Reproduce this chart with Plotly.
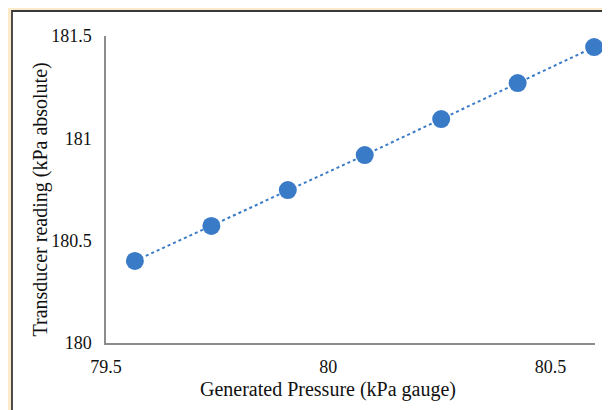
import plotly.graph_objects as go

generated_pressure = [79.565, 79.737, 79.909, 80.082, 80.254, 80.426, 80.598]
transducer_reading = [180.401, 180.572, 180.747, 180.918, 181.094, 181.270, 181.446]
x_ticks = [79.5, 80, 80.5]
x_tick_labels = ["79.5", "80", "80.5"]
y_ticks = [180, 180.5, 181, 181.5]
y_tick_labels = ["180", "180.5", "181", "181.5"]

blue = "#3A7BC8"
serif = "Liberation Serif"
tick_font = dict(family=serif, size=18, color="#111111")

L, T, W, H = 98, 28, 489, 307
fig = go.Figure()
fig.add_trace(go.Scatter(
    x=generated_pressure, y=transducer_reading,
    mode="lines+markers",
    line=dict(color=blue, width=2, dash="dot"),
    marker=dict(color=blue, size=18),
    showlegend=False,
    cliponaxis=False,
))

fig.update_layout(
    width=610, height=410,
    margin=dict(l=L, r=610 - L - W, t=T, b=410 - T - H),
    paper_bgcolor="#FDEACB",
    plot_bgcolor="white",
    font=dict(family=serif, size=18, color="#111111"),
    shapes=[dict(type="rect", xref="paper", yref="paper",
                 x0=(4 - L) / W, x1=1.3, y0=-0.6, y1=1 + (T - 3) / H,
                 fillcolor="white", line=dict(color="#3a3a3a", width=1.8),
                 layer="below")],
    annotations=[
        dict(text="Generated Pressure (kPa gauge)", xref="paper", yref="paper",
             x=(319.5 - L) / W, y=-46 / H, showarrow=False,
             xanchor="center", yanchor="middle",
             font=dict(family=serif, size=20, color="#111111")),
        dict(text="Transducer reading (kPa absolute)", xref="paper", yref="paper",
             x=(32 - L) / W, y=(T + H - 191.5) / H, showarrow=False,
             textangle=-90, xanchor="center", yanchor="middle",
             font=dict(family=serif, size=20, color="#111111")),
    ],
)
fig.update_xaxes(range=[79.5, 80.6], tickvals=x_ticks, ticktext=x_tick_labels,
                 showgrid=False, zeroline=False, showline=True, tickfont=tick_font,
                 linecolor="#8c8c8c", linewidth=1.5, ticks="", ticklabelstandoff=7)
fig.update_yaxes(range=[180, 181.5], tickvals=y_ticks, ticktext=y_tick_labels,
                 showgrid=False, zeroline=False, showline=True, tickfont=tick_font,
                 linecolor="#8c8c8c", linewidth=1.5, ticks="", ticklabelstandoff=9)

fig.write_html("out.html")
